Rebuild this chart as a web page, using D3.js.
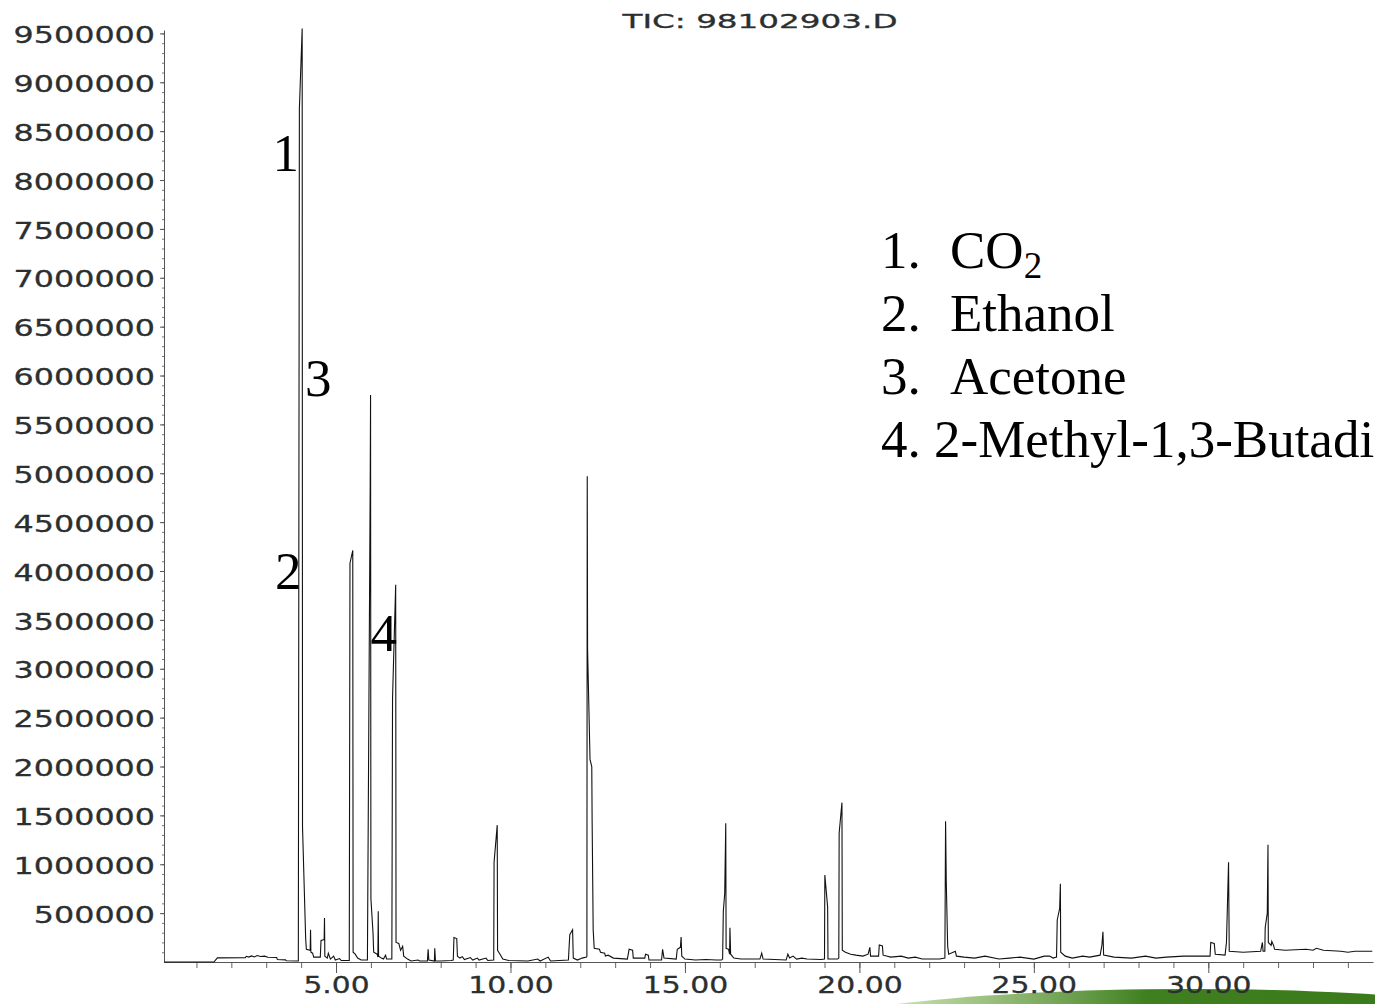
<!DOCTYPE html>
<html>
<head>
<meta charset="utf-8">
<script src="https://cdn.jsdelivr.net/npm/d3@7"></script>
<style>
  html, body { margin: 0; padding: 0; background: #fff; overflow: hidden; }
  svg { display: block; }
</style>
</head>
<body>
<div id="chart"></div>
<script>
// chromatogram: [retention time (min), abundance]
const ticEarly = [
  [0.07, 0], [1.50, 0], [1.60, 42000], [2.40, 45000], [2.43, 58000], [2.50, 50000], [2.58, 62000],
  [2.66, 52000], [2.74, 66000], [2.84, 57000], [2.95, 60000], [3.05, 48000], [3.30, 46000],
  [3.32, 25000], [3.55, 22000], [3.58, 12000], [3.92, 10000], [3.95, 8730000], [4.03, 9550000],
  [4.04, 1380000], [4.13, 240000], [4.15, 130000], [4.26, 120000], [4.27, 330000], [4.28, 100000],
  [4.33, 90000], [4.36, 50000], [4.55, 50000], [4.57, 220000], [4.66, 230000], [4.67, 450000],
  [4.68, 60000], [4.75, 40000], [4.78, 90000], [4.84, 30000], [4.93, 60000], [4.98, 20000],
  [5.10, 35000], [5.15, 15000], [5.38, 15000], [5.40, 4080000], [5.48, 4210000], [5.49, 100000],
  [5.55, 80000], [5.62, 40000], [5.72, 20000], [5.90, 20000], [5.98, 4900000], [5.99, 5800000],
  [6.00, 650000], [6.06, 300000], [6.08, 100000], [6.18, 80000], [6.20, 50000], [6.21, 520000],
  [6.22, 60000], [6.30, 40000], [6.36, 30000], [6.42, 70000], [6.45, 30000], [6.60, 30000],
  [6.62, 2700000], [6.71, 3860000], [6.72, 200000], [6.80, 190000], [6.85, 120000], [6.91, 160000],
  [6.94, 60000], [7.05, 30000], [7.15, 10000], [7.35, 20000], [7.40, 10000], [7.62, 10000],
  [7.64, 130000], [7.66, 20000], [7.82, 10000], [7.83, 140000], [7.85, 10000]
];
const ticMid = [
  [8.00, 10000], [8.30, 15000], [8.36, 20000], [8.38, 250000], [8.46, 240000], [8.48, 60000],
  [8.55, 40000], [8.62, 55000], [8.68, 25000], [8.85, 45000], [8.92, 20000], [9.05, 40000],
  [9.10, 20000], [9.30, 40000], [9.35, 15000], [9.52, 20000], [9.53, 1020000], [9.62, 1400000],
  [9.63, 120000], [9.70, 80000], [9.78, 30000], [9.95, 15000], [10.50, 10000], [10.78, 30000],
  [10.85, 10000], [11.08, 50000], [11.15, 10000], [11.66, 20000], [11.70, 280000], [11.78, 330000],
  [11.80, 40000], [11.92, 20000], [12.05, 40000], [12.18, 50000], [12.19, 60000], [12.20, 4970000],
  [12.21, 3200000], [12.28, 2070000], [12.33, 2000000], [12.34, 1450000], [12.37, 330000],
  [12.40, 140000], [12.55, 130000], [12.58, 100000], [12.70, 90000], [12.72, 60000], [12.80, 70000],
  [12.95, 40000], [13.35, 30000], [13.40, 130000], [13.50, 120000], [13.52, 40000], [13.85, 40000],
  [13.87, 80000], [13.95, 70000], [13.97, 20000], [14.33, 20000], [14.36, 130000], [14.40, 40000],
  [14.75, 30000], [14.78, 130000], [14.87, 150000], [14.89, 255000], [14.91, 60000], [15.00, 30000],
  [15.30, 20000], [15.60, 25000], [15.90, 20000]
];
const ticLate = [
  [16.05, 20000], [16.08, 30000], [16.10, 520000], [16.14, 700000], [16.17, 1420000], [16.18, 140000],
  [16.25, 130000], [16.28, 80000], [16.29, 350000], [16.31, 80000], [16.40, 40000], [16.60, 30000],
  [17.15, 30000], [17.20, 90000], [17.24, 30000], [17.90, 20000], [17.95, 80000], [18.00, 40000],
  [18.10, 60000], [18.20, 30000], [18.35, 40000], [18.50, 30000], [18.90, 25000], [19.00, 30000],
  [19.01, 890000], [19.09, 560000], [19.10, 30000], [19.38, 30000], [19.41, 40000], [19.42, 1320000],
  [19.50, 1630000], [19.51, 120000], [19.60, 100000], [19.75, 80000], [19.90, 70000], [20.10, 60000],
  [20.25, 80000], [20.30, 150000], [20.32, 60000], [20.55, 60000], [20.57, 175000], [20.66, 165000],
  [20.68, 70000], [20.90, 50000], [21.20, 60000], [21.40, 40000], [21.60, 50000], [21.80, 30000],
  [22.30, 30000], [22.45, 40000], [22.47, 1440000], [22.49, 820000], [22.53, 160000], [22.56, 80000],
  [22.75, 110000], [22.78, 60000], [23.00, 50000], [23.30, 40000], [23.60, 60000], [24.00, 30000],
  [24.30, 40000], [24.60, 50000], [25.00, 30000]
];
const ticEnd = [
  [25.30, 60000], [25.45, 60000], [25.55, 40000], [25.65, 50000], [25.67, 430000], [25.74, 550000],
  [25.76, 800000], [25.77, 100000], [25.90, 60000], [26.10, 40000], [26.40, 60000], [26.60, 50000],
  [26.90, 70000], [26.95, 170000], [26.98, 310000], [27.00, 70000], [27.30, 50000], [27.80, 40000],
  [28.20, 60000], [28.50, 40000], [28.80, 50000], [29.30, 60000], [29.70, 60000], [30.05, 60000],
  [30.07, 200000], [30.17, 190000], [30.20, 80000], [30.48, 70000], [30.52, 200000], [30.58, 1020000],
  [30.60, 110000], [31.00, 100000], [31.50, 110000], [31.55, 200000], [31.57, 110000], [31.62, 110000],
  [31.63, 350000], [31.69, 500000], [31.71, 1200000], [31.72, 200000], [31.80, 170000], [31.82, 210000],
  [31.87, 170000], [31.90, 130000], [32.20, 120000], [32.80, 130000], [33.00, 120000], [33.10, 140000],
  [33.30, 120000], [33.80, 110000], [34.00, 100000], [34.20, 110000], [34.70, 110000]
];

const title = "TIC: 98102903.D";
const yTicks = d3.range(500000, 9500001, 500000);
const yMinor = d3.range(100000, 9500001, 100000);
const xTicks = [5, 10, 15, 20, 25, 30];
const xMinor = d3.range(1, 35);
const compounds = ["CO", "Ethanol", "Acetone", "2-Methyl-1,3-Butadiene"];
// peak numbers, anchored in data units
const peakLabels = [
  { label: "1", t: 3.18, v: 8090000 },
  { label: "2", t: 3.25, v: 3820000 },
  { label: "3", t: 4.11, v: 5790000 },
  { label: "4", t: 5.99, v: 3180000 }
];

const width = 1375, height = 1004;
const tickFont = "'DejaVu Sans', Verdana, sans-serif";
const serif = "'Liberation Serif', 'Times New Roman', serif";

const svg = d3.select("#chart").append("svg")
  .attr("width", width)
  .attr("height", height);

// green hill from the slide background, bottom right
const defs = svg.append("defs");
const grad = defs.append("linearGradient").attr("id", "hill");
grad.selectAll("stop")
  .data([[0, "#dfeed2", 0], [0.2, "#a9cc8a", 0.85], [0.45, "#3f7f1f", 1], [0.75, "#3b7a1b", 1], [1, "#6ea447", 1]])
  .enter().append("stop")
  .attr("offset", d => d[0])
  .attr("stop-color", d => d[1])
  .attr("stop-opacity", d => d[2]);
svg.append("ellipse")
  .attr("cx", 1190).attr("cy", 1045)
  .attr("rx", 430).attr("ry", 56)
  .attr("fill", "url(#hill)");

const x = d3.scaleLinear().domain([0.07, 34.72]).range([164, 1373]);
const y = d3.scaleLinear().domain([0, 9535000]).range([962, 30]);

// y axis: minor ticks, then major ticks with labels
svg.append("g")
  .attr("transform", "translate(164,0)")
  .call(d3.axisLeft(y).tickValues(yMinor).tickSize(2).tickSizeOuter(0).tickFormat(""))
  .call(g => g.select(".domain").remove())
  .selectAll("line").attr("stroke", "#777");

const yAxis = svg.append("g")
  .attr("transform", "translate(164,0)")
  .call(d3.axisLeft(y).tickValues(yTicks).tickSize(4).tickSizeOuter(0).tickPadding(5).tickFormat(d3.format("d")));
yAxis.select(".domain").attr("stroke", "#555");
yAxis.selectAll("line").attr("stroke", "#555");
yAxis.selectAll("text")
  .attr("font-family", tickFont)
  .attr("font-size", 23)
  .attr("fill", "#2b2f2f")
  .attr("stroke", "#2b2f2f")
  .attr("stroke-width", 0.3)
  .attr("dy", "0.4em")
  .attr("textLength", function () { return this.textContent.length * 20.2; })
  .attr("lengthAdjust", "spacingAndGlyphs");

// x axis
svg.append("g")
  .attr("transform", "translate(0,962)")
  .call(d3.axisBottom(x).tickValues(xMinor).tickSize(6).tickSizeOuter(0).tickFormat(""))
  .call(g => g.select(".domain").remove())
  .selectAll("line").attr("stroke", "#666");

const xAxis = svg.append("g")
  .attr("transform", "translate(0,962)")
  .call(d3.axisBottom(x).tickValues(xTicks).tickSize(11).tickSizeOuter(0).tickPadding(4).tickFormat(d3.format(".2f")));
xAxis.select(".domain").attr("stroke", "#555");
xAxis.selectAll("line").attr("stroke", "#555");
xAxis.selectAll("text")
  .attr("font-family", tickFont)
  .attr("font-size", 23)
  .attr("fill", "#2b2f2f")
  .attr("stroke", "#2b2f2f")
  .attr("stroke-width", 0.3)
  .attr("textLength", function () { return (this.textContent.length - 1) * 19.5 + 7.5; })
  .attr("lengthAdjust", "spacingAndGlyphs");

// title
svg.append("text")
  .attr("x", 760).attr("y", 28)
  .attr("text-anchor", "middle")
  .attr("font-family", tickFont)
  .attr("font-size", 20)
  .attr("fill", "#2b2f2f")
  .attr("stroke", "#2b2f2f")
  .attr("stroke-width", 0.3)
  .attr("textLength", 275)
  .attr("lengthAdjust", "spacingAndGlyphs")
  .text(title);

// trace
const tic = ticEarly.concat(ticMid, ticLate, ticEnd);
const line = d3.line()
  .x(d => x(d[0]))
  .y(d => y(d[1]));
svg.append("path")
  .datum(tic)
  .attr("fill", "none")
  .attr("stroke", "#111")
  .attr("stroke-width", 1.1)
  .attr("d", line);

// peak numbers
svg.selectAll("text.peak")
  .data(peakLabels)
  .enter().append("text")
  .attr("class", "peak")
  .attr("x", d => x(d.t))
  .attr("y", d => y(d.v))
  .attr("font-family", serif)
  .attr("font-size", 53)
  .attr("fill", "#000")
  .text(d => d.label);

// compound list
const legend = svg.append("g")
  .attr("font-family", serif)
  .attr("font-size", 53)
  .attr("fill", "#000");
compounds.forEach((name, i) => {
  const by = 268 + i * 63;
  if (i < 3) {
    legend.append("text").attr("x", 881).attr("y", by).text((i + 1) + ".");
    const t = legend.append("text").attr("x", 950).attr("y", by).text(name);
    if (i === 0) {
      t.append("tspan").attr("font-size", 37).attr("dy", 10).text("2");
    }
  } else {
    legend.append("text").attr("x", 881).attr("y", by).text((i + 1) + ". " + name);
  }
});
</script>
</body>
</html>
